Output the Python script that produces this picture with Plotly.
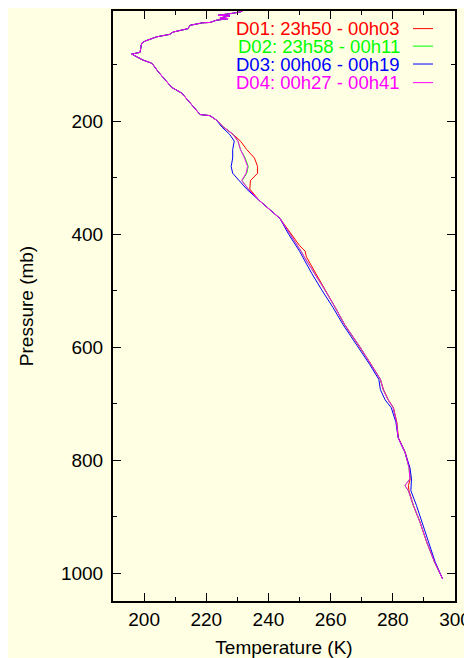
import plotly.graph_objects as go

# Pressure levels (mb), shared by all soundings
pressure = [5.0, 6.5, 9.5, 12.3, 13.5, 17, 18.3, 21, 25, 25.5, 30, 36, 42, 46, 50.5, 58, 62, 78, 81,
            91.5, 97, 100, 112, 140, 150, 188, 190, 198, 210, 223, 235, 250, 265, 280, 292, 305,
            320, 340, 372, 400, 420, 430, 440, 470, 500, 530, 560, 600, 630, 657, 675, 693, 707,
            733, 760, 786, 813, 833, 845, 854, 880, 909, 945, 980, 1010]

t_d01 = [231.6, 230.8, 227.6, 223.8, 227.6, 224.4, 227.0, 223.3, 221.2, 218.9, 214.8, 214.1, 209.3, 208.3, 204.0,
         200.3, 199.2, 198.7, 196.0, 199.6, 202.4, 202.9, 204.5, 208.9, 212.1, 218.0, 221.2, 223.3, 225.5,
         228.6, 231.0, 233.0, 235.5, 236.5, 236.5, 234.2, 234.0, 237.0, 243.7, 247.3, 250.0, 251.8, 252.2,
         255.3, 258.5, 261.5, 264.5, 269.5, 273.0, 276.0, 277.0, 278.5, 280.2, 281.3, 281.8, 284.0, 285.3,
         285.6, 285.0, 285.2, 286.6, 288.7, 290.9, 293.4, 296.0]

t_d02 = [231.6, 230.8, 227.6, 223.8, 227.6, 224.4, 227.0, 223.3, 221.2, 218.9, 214.8, 214.1, 209.3, 208.3, 204.0,
         200.3, 199.2, 198.7, 196.0, 199.6, 202.4, 202.9, 204.5, 208.9, 212.1, 218.0, 221.2, 223.3, 225.5,
         228.6, 230.2, 231.0, 232.5, 233.5, 233.0, 231.5, 233.5, 237.0, 243.7, 247.0, 249.5, 250.5, 251.5,
         255.0, 258.3, 261.5, 264.5, 269.5, 273.0, 276.0, 276.9, 278.5, 280.1, 281.2, 281.7, 283.9, 285.2,
         285.5, 283.9, 285.0, 286.6, 288.7, 290.9, 293.4, 296.0]

t_d03 = [231.6, 230.8, 227.6, 223.8, 227.6, 224.4, 227.0, 223.3, 221.2, 218.9, 214.8, 214.1, 209.3, 208.3, 204.0,
         200.3, 199.2, 198.7, 196.0, 199.6, 202.4, 202.9, 204.5, 208.9, 212.1, 218.0, 221.2, 223.3, 225.0,
         227.5, 229.0, 228.5, 228.5, 228.0, 228.5, 230.5, 233.0, 237.0, 243.7, 246.5, 249.0, 250.0, 251.0,
         254.0, 257.3, 260.8, 264.0, 269.0, 272.5, 275.5, 276.0, 277.5, 279.5, 281.0, 281.7, 283.9, 285.5,
         286.0, 285.8, 285.8, 287.6, 289.3, 291.3, 293.6, 296.0]

t_d04 = [231.6, 230.8, 227.6, 223.8, 227.6, 224.4, 227.0, 223.3, 221.2, 218.9, 214.8, 214.1, 209.3, 208.3, 204.0,
         200.3, 199.2, 198.7, 196.0, 199.6, 202.4, 202.9, 204.5, 208.9, 212.1, 218.0, 221.2, 223.3, 225.5,
         228.6, 230.2, 231.0, 232.3, 233.3, 232.8, 231.4, 233.5, 237.0, 243.7, 247.0, 249.5, 250.5, 251.5,
         255.0, 258.3, 261.5, 264.5, 269.5, 273.0, 276.0, 276.9, 278.5, 280.1, 281.2, 281.7, 283.9, 285.2,
         285.5, 283.9, 285.0, 286.6, 288.7, 290.9, 293.4, 296.0]

labels = ["D01: 23h50 - 00h03", "D02: 23h58 - 00h11", "D03: 00h06 - 00h19", "D04: 00h27 - 00h41"]
colors = ["#ff0000", "#00ff00", "#0000ff", "#ff00ff"]
series = [t_d01, t_d02, t_d03, t_d04]

x_ticks = [200, 220, 240, 260, 280, 300]
y_ticks = [200, 400, 600, 800, 1000]

BG = "#ffffe3"
FONT = "Liberation Sans, Arial, sans-serif"
FS = 19

fig = go.Figure()
for t, lab, c in zip(series, labels, colors):
    fig.add_trace(go.Scatter(x=t, y=pressure, mode="lines", name=lab,
                             line=dict(color=c, width=1), showlegend=False))

# page has an 8px body margin; figure placed so the plot box matches the reference
OFF = 8
W, H = 464, 650
L, R, T, B = 105, 17, 1, 56
pw, ph = W - L - R, H - T - B


def px(xp):
    return (xp - OFF - L) / pw


def py(yp):
    return (H - B - (yp - OFF)) / ph


# gnuplot-style key: coloured text, sample line to its right
rows_y = [26.7, 44.3, 62.3, 81.0]
for lab, c, yy in zip(labels, colors, rows_y):
    fig.add_annotation(xref="paper", yref="paper", x=px(401.5), y=py(yy),
                       text=lab, showarrow=False, xanchor="right", yanchor="middle",
                       height=17, valign="middle",
                       font=dict(family=FONT, size=18.5, color=c))
    fig.add_shape(type="line", xref="paper", yref="paper",
                  x0=px(413), x1=px(433), y0=py(yy), y1=py(yy),
                  line=dict(color=c, width=1))

axis_common = dict(showline=True, linecolor="black", linewidth=2, mirror="ticks",
                   ticks="inside", ticklen=8, tickwidth=1, tickcolor="black",
                   showgrid=False, zeroline=False,
                   tickfont=dict(family=FONT, size=FS, color="black"))

fig.update_xaxes(range=[190, 300], tickvals=x_ticks,
                 minor=dict(ticks="inside", ticklen=4, dtick=10, tick0=190, tickcolor="black", showgrid=False),
                 title=dict(text="Temperature (K)", font=dict(family=FONT, size=FS, color="black"), standoff=14),
                 **axis_common)
fig.update_yaxes(range=[1049.3, 4.7], tickvals=y_ticks,
                 minor=dict(ticks="inside", ticklen=4, dtick=100, tick0=0, tickcolor="black", showgrid=False),
                 title=dict(text="Pressure (mb)", font=dict(family=FONT, size=FS, color="black"), standoff=22),
                 ticklabelstandoff=4,
                 **axis_common)

fig.update_layout(width=W, height=H, margin=dict(l=L, r=R, t=T, b=B),
                  paper_bgcolor=BG, plot_bgcolor=BG, showlegend=False)

fig.write_html("out.html")
